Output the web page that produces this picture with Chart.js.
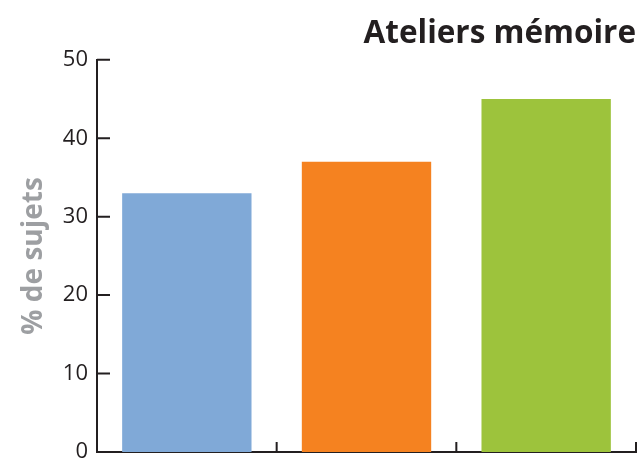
<!DOCTYPE html>
<html>
<head>
<meta charset="utf-8">
<script src="https://cdn.jsdelivr.net/npm/chart.js@4/dist/chart.umd.min.js"></script>
<style>
  html, body { margin: 0; padding: 0; background: #fff; }
  #wrap { width: 639px; height: 460px; }
</style>
</head>
<body>
<div id="wrap"><canvas id="chart"></canvas></div>
<script>
// Chart data
const categories = ['A', 'B', 'C'];
const values = [33, 37, 45];
const barColors = ['#80a9d7', '#f58220', '#9dc33c'];
const yTicks = [0, 10, 20, 30, 40, 50];

const inkColor = '#231f20';
const fontFamily = '"Open Sans", "Noto Sans", sans-serif';

// ticks pointing into the plot, drawn from the scales
const innerTicks = {
    id: 'innerTicks',
    afterDraw(chart) {
        const ctx = chart.ctx;
        const x = chart.scales.x;
        const y = chart.scales.y;
        ctx.save();
        ctx.strokeStyle = inkColor;
        ctx.lineWidth = 2;
        ctx.beginPath();
        yTicks.forEach(v => {
            const py = y.getPixelForValue(v);
            ctx.moveTo(x.left, py);
            ctx.lineTo(x.left + 13, py);
        });
        for (let i = 1; i <= categories.length; i++) {
            const px = x.getPixelForValue(i - 0.5);
            ctx.moveTo(px, y.bottom);
            ctx.lineTo(px, y.bottom - 10);
        }
        ctx.stroke();
        ctx.restore();
    }
};

new Chart(document.getElementById('chart'), {
    type: 'bar',
    data: {
        labels: categories,
        datasets: [{
            data: values,
            backgroundColor: barColors,
            barPercentage: 0.8,
            categoryPercentage: 0.9
        }]
    },
    options: {
        responsive: true,
        maintainAspectRatio: false,
        animation: false,
        layout: { padding: { left: 0, right: 3, bottom: 0 } },
        plugins: {
            legend: { display: false },
            tooltip: { enabled: false },
            title: {
                display: true,
                text: 'Ateliers mémoire',
                align: 'end',
                color: inkColor,
                font: { family: fontFamily, size: 31.5, weight: 'bold' },
                padding: { top: 15, bottom: 7 }
            }
        },
        scales: {
            x: {
                offset: true,
                afterFit(scale) { scale.height = 8; },
                border: { display: true, color: inkColor, width: 2 },
                grid: { display: false, drawTicks: false },
                ticks: { display: false }
            },
            y: {
                min: 0,
                max: 50,
                afterBuildTicks(scale) {
                    scale.ticks = yTicks.map(v => ({ value: v }));
                },
                afterFit(scale) {
                    scale.width = 97;
                    scale.paddingTop = 0;
                    scale.paddingBottom = 0;
                },
                border: { display: true, color: inkColor, width: 2 },
                grid: { display: false, drawTicks: false },
                ticks: {
                    color: inkColor,
                    padding: 9,
                    font: { family: fontFamily, size: 22 }
                },
                title: {
                    display: true,
                    text: '% de sujets',
                    color: '#9d9fa2',
                    font: { family: fontFamily, size: 28, weight: 'bold' },
                    padding: { top: 17, bottom: 0 }
                }
            }
        }
    },
    plugins: [innerTicks]
});
</script>
</body>
</html>
